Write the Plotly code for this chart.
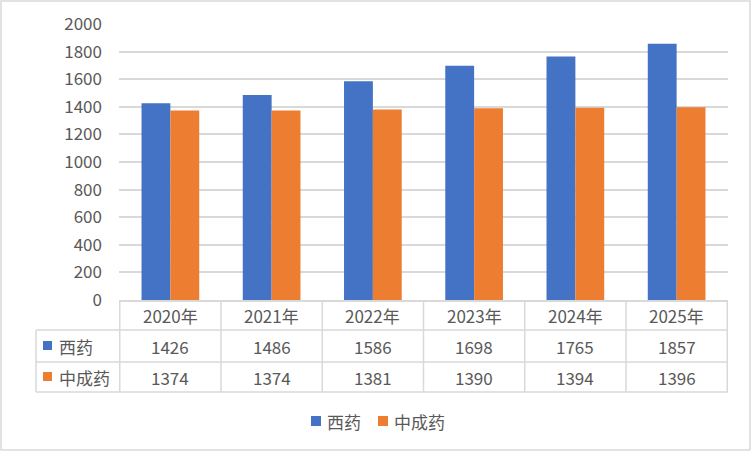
import plotly.graph_objects as go

# data
years = ["2020年", "2021年", "2022年", "2023年", "2024年", "2025年"]
xiyao = [1426, 1486, 1586, 1698, 1765, 1857]
zhongchengyao = [1374, 1374, 1381, 1390, 1394, 1396]
series_names = ["西药", "中成药"]
colors = ["#4472C4", "#ED7D31"]

W, H = 752, 452
L, R, T, B = 119, 728, 24, 300  # plot area in pixels
FONT = "Noto Sans CJK SC, Noto Sans, sans-serif"
TXT = "#595959"
GRID = "#D9D9D9"


def px(x):
  return (x - L) / (R - L)


def py(y):
  return (B - y) / (B - T)


fig = go.Figure()
for name, vals, c in zip(series_names, [xiyao, zhongchengyao], colors):
  fig.add_trace(go.Bar(x=years, y=vals, name=name, marker_color=c,
                       marker_line_width=0, showlegend=False))

shapes = []
annotations = []
line = dict(color=GRID, width=1.5)
font = dict(size=17, color=TXT, family=FONT)

# data table grid
for y in [330, 362, 392]:
  shapes.append(dict(type="line", xref="paper", yref="paper",
                     x0=px(36), x1=1, y0=py(y), y1=py(y), line=line))
shapes.append(dict(type="line", xref="paper", yref="paper",
                   x0=px(36), x1=px(36), y0=py(330), y1=py(392), line=line))
for i in range(len(years) + 1):
  shapes.append(dict(type="line", xref="x", yref="paper",
                     x0=i - 0.5, x1=i - 0.5, y0=py(300), y1=py(392),
                     line=line))

# header row and values
row_centers = [346, 377]
for i, yr in enumerate(years):
  annotations.append(dict(x=i, y=py(315), xref="x", yref="paper",
                          xanchor="center", yanchor="middle",
                          text=yr, showarrow=False, font=font))
  for yc, vals in zip(row_centers, [xiyao, zhongchengyao]):
    annotations.append(dict(x=i, y=py(yc), xref="x", yref="paper",
                            xanchor="center", yanchor="middle",
                            text=str(vals[i]), showarrow=False, font=font))

# row labels with legend keys
for yc, name, c in zip(row_centers, series_names, colors):
  shapes.append(dict(type="rect", xref="paper", yref="paper",
                     x0=px(43), x1=px(52), y0=py(yc - 5), y1=py(yc + 4),
                     fillcolor=c, line_width=0))
  annotations.append(dict(x=px(57), y=py(yc), xref="paper", yref="paper",
                          text=name, showarrow=False, xanchor="left",
                          yanchor="middle", font=font))

# legend below the table
for lx, name, c in zip([311, 378], series_names, colors):
  shapes.append(dict(type="rect", xref="paper", yref="paper",
                     x0=px(lx), x1=px(lx + 10), y0=py(416), y1=py(426),
                     fillcolor=c, line_width=0))
  annotations.append(dict(x=px(lx + 14), y=py(421), xref="paper",
                          yref="paper", text=name, showarrow=False,
                          xanchor="left", yanchor="middle", font=font))

# chart border
shapes.append(dict(type="rect", xref="paper", yref="paper",
                   x0=px(1), x1=px(750), y0=py(1), y1=py(450),
                   line=dict(color=GRID, width=1.5)))

fig.update_layout(
  width=W, height=H, autosize=False,
  margin=dict(l=L, r=W - R, t=T, b=H - B, autoexpand=False),
  paper_bgcolor="white", plot_bgcolor="white",
  barmode="group", bargap=0.43, bargroupgap=0,
  font=dict(family=FONT, size=17, color=TXT),
  shapes=shapes, annotations=annotations,
  showlegend=False,
  xaxis=dict(showticklabels=False, showline=True, linecolor=GRID,
             linewidth=1.5, showgrid=False, zeroline=False),
  yaxis=dict(range=[0, 2000], dtick=200, gridcolor=GRID, gridwidth=1.5,
             zeroline=False, showline=False, ticklabelstandoff=16,
             tickfont=dict(size=17, color=TXT)),
)

fig.write_html("out.html", config={"displayModeBar": False},
               post_script="document.body.style.margin='0';")
